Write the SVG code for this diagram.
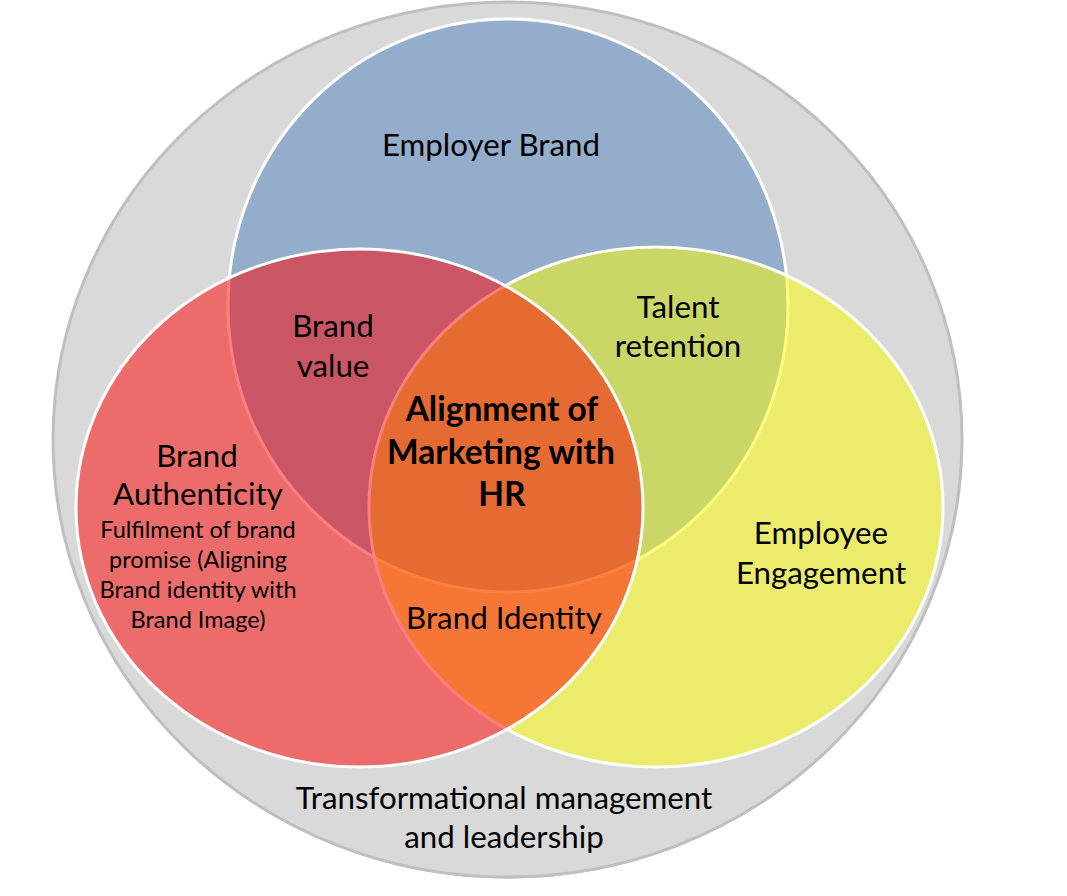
<svg xmlns="http://www.w3.org/2000/svg" width="1067" height="896" viewBox="0 0 1067 896">
  <style>
    .set { stroke: #FFFFFF; stroke-width: 3; fill-opacity: 0.5; }
    text { font-family: Lato, "Liberation Sans", sans-serif; fill: #000000; text-anchor: middle; }
    .lg { font-size: 31.3px; }
    .sm { font-size: 23.5px; }
    .bd { font-size: 33.5px; font-weight: bold; }
  </style>
  <rect width="1067" height="896" fill="#FFFFFF"/>
  <g id="outer">
    <ellipse cx="507.5" cy="441" rx="454.5" ry="437.5" fill="#BFBFBF" stroke="none"/>
    <ellipse cx="507.5" cy="439.5" rx="454.5" ry="437.5" fill="#D9D9D9" stroke="#BFBFBF" stroke-width="3"/>
  </g>
  <g id="employer-brand">
    <ellipse class="set" cx="508" cy="305.5" rx="280" ry="286.5" fill="#4F81BD"/>
  </g>
  <g id="employee-engagement">
    <ellipse class="set" cx="656" cy="507" rx="287" ry="260" fill="#FFFF00"/>
  </g>
  <g id="brand-authenticity">
    <ellipse class="set" cx="359.5" cy="508" rx="283.5" ry="259" fill="#FF0000"/>
  </g>
  <g id="labels">
    <text class="lg" x="491" y="156">Employer Brand</text>
    <text class="lg" x="333" y="337">Brand</text>
    <text class="lg" x="333" y="377">value</text>
    <text class="lg" x="678" y="318">Talent</text>
    <text class="lg" x="678" y="357">retention</text>
    <text class="bd" x="502" y="421">Alignment of</text>
    <text class="bd" x="501" y="464">Marketing with</text>
    <text class="bd" x="502" y="506">HR</text>
    <text class="lg" x="197" y="467">Brand</text>
    <text class="lg" x="198" y="505">Authenticity</text>
    <text class="sm" x="198" y="538">Fulfilment of brand</text>
    <text class="sm" x="198" y="568">promise (Aligning</text>
    <text class="sm" x="198" y="598">Brand identity with</text>
    <text class="sm" x="198" y="628">Brand Image)</text>
    <text class="lg" x="504" y="629">Brand Identity</text>
    <text class="lg" x="821" y="544">Employee</text>
    <text class="lg" x="821" y="584">Engagement</text>
    <text class="lg" x="504" y="809">Transformational management</text>
    <text class="lg" x="504" y="848">and leadership</text>
  </g>
</svg>
